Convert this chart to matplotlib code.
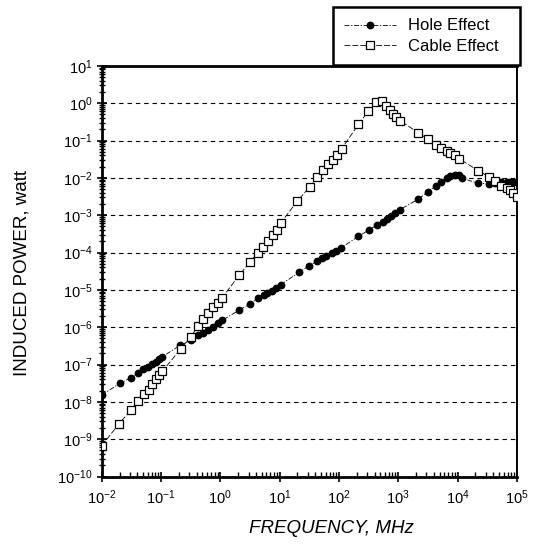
import matplotlib
matplotlib.use("Agg")
import matplotlib.pyplot as plt
import numpy as np
from matplotlib.ticker import LogLocator, FixedLocator, FuncFormatter, NullFormatter

plt.rcParams['font.family'] = ['Liberation Sans', 'DejaVu Sans']

# log10(frequency, MHz) and log10(power, W)
hole_logf = [-2.0, -1.69, -1.50, -1.38, -1.30, -1.22, -1.15, -1.087, -1.026, -0.975,
             -0.68, -0.49, -0.37, -0.285, -0.20, -0.116, -0.03, 0.03,
             0.32, 0.50, 0.64, 0.73, 0.79, 0.87, 0.94, 1.02,
             1.33, 1.50, 1.625, 1.71, 1.79, 1.88, 1.95, 2.03,
             2.33, 2.51, 2.65, 2.75, 2.81, 2.88, 2.94, 3.03,
             3.34, 3.50, 3.635, 3.73, 3.815, 3.88, 3.955, 4.03, 4.08,
             4.35, 4.53, 4.63, 4.74, 4.83, 4.88, 4.94, 5.0]
hole_logp = [-7.82, -7.50, -7.35, -7.22, -7.13, -7.06, -6.99, -6.92, -6.86, -6.79,
             -6.49, -6.35, -6.21, -6.15, -6.07, -5.99, -5.90, -5.82,
             -5.54, -5.38, -5.22, -5.15, -5.09, -5.03, -4.96, -4.86,
             -4.53, -4.35, -4.24, -4.15, -4.08, -4.01, -3.95, -3.88,
             -3.57, -3.39, -3.26, -3.17, -3.10, -3.02, -2.95, -2.85,
             -2.57, -2.37, -2.22, -2.11, -2.01, -1.95, -1.92, -1.93, -2.01,
             -2.15, -2.16, -2.13, -2.11, -2.11, -2.11, -2.11, -2.12]

cable_logf = [-2.0, -1.705, -1.503, -1.38, -1.28, -1.21, -1.144, -1.087, -1.03, -0.976,
              -0.67, -0.50, -0.37, -0.285, -0.20, -0.116, -0.043, 0.03,
              0.32, 0.50, 0.63, 0.726, 0.81, 0.884, 0.95, 1.02,
              1.30, 1.51, 1.635, 1.735, 1.82, 1.895, 1.97, 2.046,
              2.33, 2.49, 2.62, 2.725, 2.79, 2.86, 2.915, 2.97, 3.03,
              3.34, 3.505, 3.635, 3.73, 3.815, 3.88, 3.955, 4.03,
              4.35, 4.53, 4.63, 4.74, 4.83, 4.88, 4.94, 5.0]
cable_logp = [-9.18, -8.58, -8.22, -7.97, -7.79, -7.67, -7.52, -7.40, -7.28, -7.18,
              -6.59, -6.26, -5.97, -5.77, -5.61, -5.47, -5.34, -5.21,
              -4.61, -4.25, -4.01, -3.84, -3.68, -3.54, -3.39, -3.21,
              -2.62, -2.24, -1.99, -1.80, -1.64, -1.51, -1.38, -1.22,
              -0.57, -0.22, 0.03, 0.05, -0.08, -0.19, -0.29, -0.38, -0.47,
              -0.79, -0.97, -1.11, -1.20, -1.27, -1.33, -1.40, -1.49,
              -1.81, -1.97, -2.09, -2.21, -2.27, -2.33, -2.40, -2.50]

x_tick_exps = [-2, -1, 0, 1, 2, 3, 4, 5]
y_tick_exps = [-10, -9, -8, -7, -6, -5, -4, -3, -2, -1, 0, 1]
grid_exps = [-9, -8, -7, -6, -5, -4, -3, -2, -1, 0]

hole_f = 10.0 ** np.array(hole_logf)
hole_p = 10.0 ** np.array(hole_logp)
cable_f = 10.0 ** np.array(cable_logf)
cable_p = 10.0 ** np.array(cable_logp)

fig = plt.figure(figsize=(5.35, 5.44), dpi=100)
ax = fig.add_axes([0.19, 0.124, 0.776, 0.755])
ax.set_xscale('log')
ax.set_yscale('log')
ax.set_xlim(1e-2, 1e5)
ax.set_ylim(1e-10, 1e1)

for e in grid_exps:
    ax.axhline(10.0 ** e, color='black', lw=0.8, ls=(0, (4, 3.5)), zorder=1)

ax.plot(hole_f, hole_p, color='black', lw=0.6, ls=(0, (6, 2, 1.5, 2)),
        marker='o', markersize=4.6, markerfacecolor='black', markeredgecolor='black',
        label='Hole Effect', zorder=3)
ax.plot(cable_f, cable_p, color='black', lw=0.6, ls=(0, (7, 2.5)),
        marker='s', markersize=5.2, markerfacecolor='white', markeredgecolor='black',
        markeredgewidth=0.9, label='Cable Effect', zorder=4)

def fmt(v, pos):
    e = int(round(np.log10(v)))
    return r'$\mathregular{10^{%d}}$' % e

ax.xaxis.set_major_locator(FixedLocator([10.0 ** e for e in x_tick_exps]))
ax.yaxis.set_major_locator(FixedLocator([10.0 ** e for e in y_tick_exps]))
ax.xaxis.set_major_formatter(FuncFormatter(fmt))
ax.yaxis.set_major_formatter(FuncFormatter(fmt))
ax.xaxis.set_minor_locator(LogLocator(base=10, subs=np.arange(2, 10), numticks=50))
ax.yaxis.set_minor_locator(LogLocator(base=10, subs=np.arange(2, 10), numticks=50))
ax.xaxis.set_minor_formatter(NullFormatter())
ax.yaxis.set_minor_formatter(NullFormatter())

ax.tick_params(axis='both', which='major', direction='inout', length=7, width=1.2,
               labelsize=10.5)
ax.tick_params(axis='x', which='major', pad=5)
ax.tick_params(axis='y', which='major', pad=3)
ax.tick_params(axis='x', which='minor', direction='in', length=3.5, width=1.0)
ax.tick_params(axis='y', which='minor', direction='inout', length=4, width=1.0)

for s in ['left', 'bottom', 'top']:
    ax.spines[s].set_linewidth(2.0)
ax.spines['right'].set_linewidth(1.4)

fig.text(0.041, 0.499, 'INDUCED POWER, watt', fontsize=13.5, rotation=90,
         ha='center', va='center')
fig.text(0.619, 0.028, 'FREQUENCY, MHz', fontsize=13.5, ha='center', va='center',
         style='italic')

leg = ax.legend(loc='upper left', bbox_to_anchor=(0.6224, 0.50, 0.3495, 0.487),
                bbox_transform=fig.transFigure, mode='expand', fontsize=12,
                frameon=True, fancybox=False, framealpha=1, edgecolor='black',
                handlelength=3.1, handletextpad=0.7, borderpad=0.68,
                labelspacing=0.32, borderaxespad=0)
leg.get_frame().set_linewidth(1.8)
leg.set_zorder(10)

fig.savefig('out.png', dpi=100)
